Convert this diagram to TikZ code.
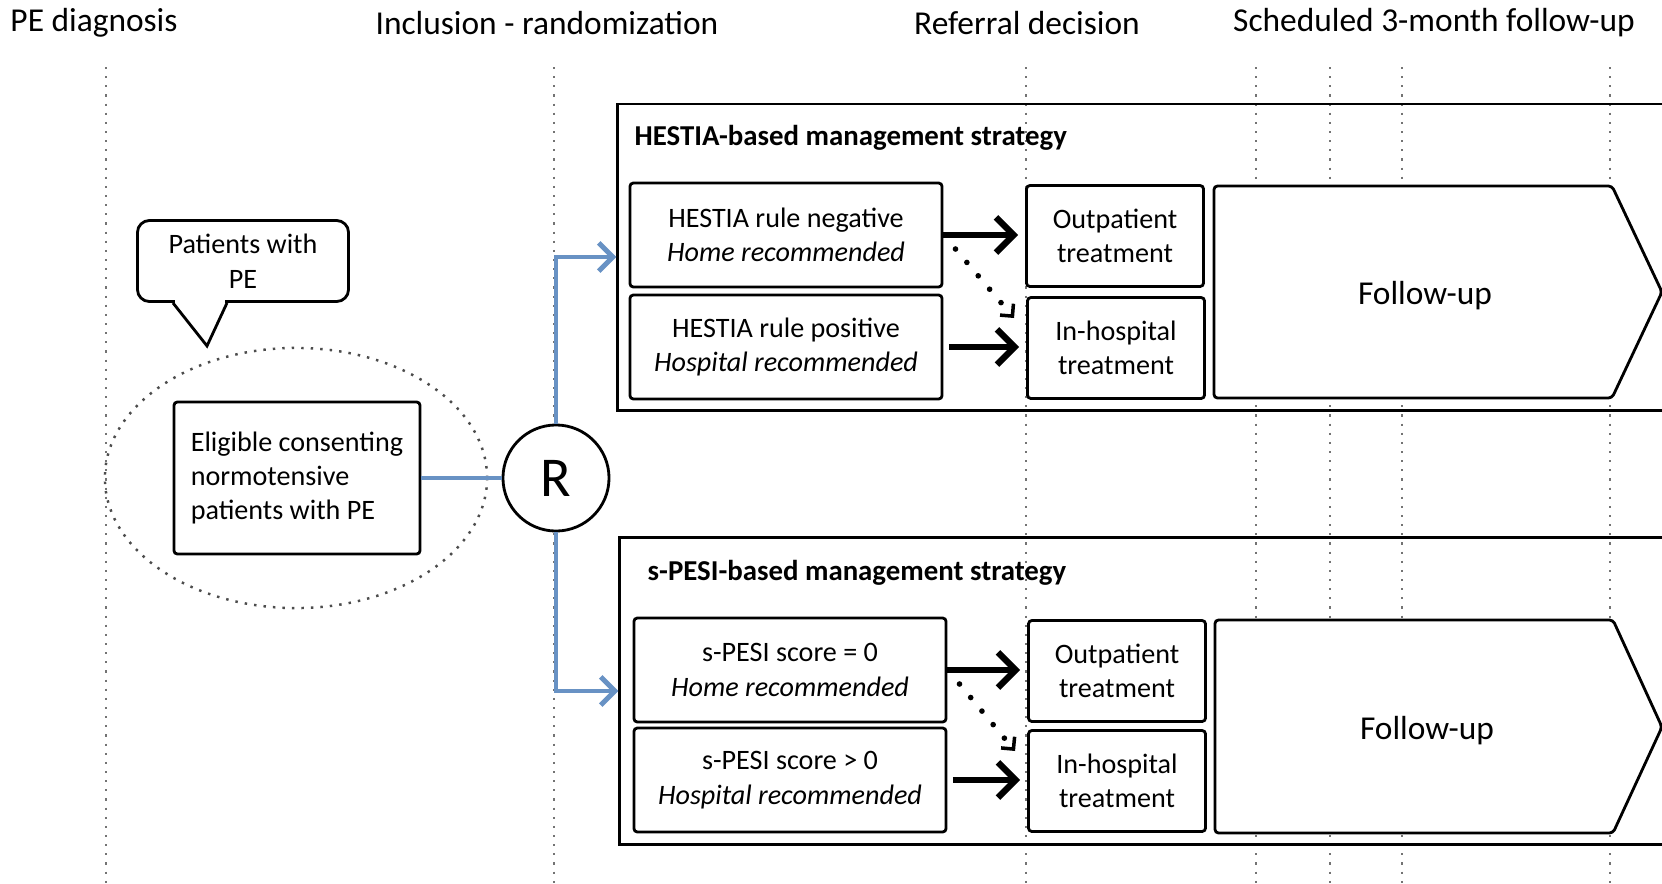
\documentclass[tikz,border=0pt]{standalone}
\usepackage{fontspec}
\setmainfont{Carlito}
\usetikzlibrary{arrows.meta}
\usetikzlibrary{shapes.geometric}
\usetikzlibrary{positioning}
\usetikzlibrary{calc}
\definecolor{linkblue}{RGB}{104,146,196}
\tikzstyle{phase} = [font=\fontsize{9.5}{11}\selectfont]
\tikzstyle{guide} = [draw=black!55, dotted, line width=0.6pt]
\tikzstyle{strategy} = [rectangle, draw, line width=0.8pt]
\tikzstyle{strattitle} = [anchor=west, inner sep=0pt, font=\bfseries\fontsize{8.2}{10}\selectfont]
\tikzstyle{rulebox} = [rectangle, draw, fill=white, line width=0.8pt, rounded corners=1pt, align=center, minimum width=3.12cm, minimum height=1.04cm, font=\fontsize{8}{9.8}\selectfont]
\tikzstyle{carebox} = [rulebox, minimum width=1.77cm, minimum height=1.01cm]
\tikzstyle{bubble} = [rectangle, draw, fill=white, line width=0.8pt, rounded corners=0.12cm, align=center, minimum width=2.11cm, minimum height=0.81cm, font=\fontsize{8}{9.8}\selectfont]
\tikzstyle{followup} = [draw, fill=white, line width=0.8pt, rounded corners=1pt]
\tikzstyle{flow} = [draw=linkblue, line width=1.4pt]
\tikzstyle{decide} = [-{Straight Barb[length=5pt,width=10pt]}, line width=1.8pt]
\tikzstyle{maybe} = [-{Straight Barb[length=2.5pt,width=5pt,line width=1pt]}, line width=1.6pt, dash pattern=on 0pt off 5pt, line cap=round]

\begin{document}
\begin{tikzpicture}[x=0.01cm, y=-0.01cm]
		\useasboundingbox (0,0) rectangle (1662,884);
		\clip (0,0) rectangle (1662,884);
		% time axis
		\node[phase] (tDiag) at (94,23) {PE diagnosis};
		\node[phase] (tIncl) at (547,23) {Inclusion - randomization};
		\node[phase] (tRef) at (1027,23) {Referral decision};
		\node[phase] (tFol) at (1434,23) {Scheduled 3-month follow-up};
		\foreach \gx in {106,554,1026,1256,1330,1402,1610}
			\draw[guide] (\gx,67) -- (\gx,884);
		% inclusion
		\node[bubble] (ptsPE) at (243,261) {Patients with\\PE};
		\draw[white, line width=1.6pt] ($(ptsPE.south)+(-68,0)$) -- ($(ptsPE.south)+(-18,0)$);
		\draw[line width=0.8pt] ($(ptsPE.south)+(-70,0)$) -- ($(ptsPE.south)+(-36,43)$) -- ($(ptsPE.south)+(-16,0)$);
		\node[ellipse, draw=black!70, dotted, line width=0.7pt, minimum width=3.82cm, minimum height=2.6cm] (pool) at (296,478) {};
		\node[rulebox, align=left, minimum width=2.46cm, minimum height=1.52cm] (elig) at (297,478) {Eligible consenting\\normotensive\\patients with PE};
		\node[circle, draw, fill=white, line width=0.8pt, minimum size=1.06cm, font=\fontsize{16}{16}\selectfont] (R) at (556,478) {R};
		% strategy frames
		\node[strategy, minimum width=10.82cm, minimum height=3.06cm] (hestia) at (1159,257) {};
		\node[strategy, minimum width=10.80cm, minimum height=3.07cm] (spesi) at (1160,691) {};
		\node[strattitle] (hestiaT) at (634,138) {HESTIA-based management strategy};
		\node[strattitle] (spesiT) at (647,573) {s-PESI-based management strategy};
		% randomization arms
		\draw[flow] (elig) -- (R);
		\draw[flow, -{Straight Barb[length=4pt,width=8pt]}] (R) |- (hestia.west);
		\draw[flow, -{Straight Barb[length=4pt,width=8pt]}] (R) |- (spesi.west);
		% HESTIA arm
		\node[rulebox] (hNeg) at (786,235) {HESTIA rule negative\\\textit{Home recommended}};
		\node[rulebox] (hPos) at (786,347) {HESTIA rule positive\\\textit{Hospital recommended}};
		\node[carebox] (hOut) at (1115,236) {Outpatient\\treatment};
		\node[carebox] (hHosp) at (1116,348) {In-hospital\\treatment};
		\draw[followup] (1214,186) -- (1612,186) -- (1662,292) -- (1612,398) -- (1214,398) -- cycle;
		\node[phase] (hFol) at (1425,296) {Follow-up};
		\draw[decide, shorten >=2pt] (hNeg.east) -- (hNeg.east -| hOut.west);
		\draw[decide, shorten >=2pt, shorten <=1.5pt] (hPos.east) -- (hPos.east -| hHosp.west);
		\draw[maybe] ($(hNeg.east)+(12,14)$) -- ($(hHosp.west)+(-12,-30)$);
		% s-PESI arm
		\node[rulebox] (sNeg) at (790,670) {s-PESI score = 0\\\textit{Home recommended}};
		\node[rulebox] (sPos) at (790,780) {s-PESI score > 0\\\textit{Hospital recommended}};
		\node[carebox] (sOut) at (1117,671) {Outpatient\\treatment};
		\node[carebox] (sHosp) at (1117,781) {In-hospital\\treatment};
		\draw[followup] (1215,620) -- (1613,620) -- (1662,727) -- (1613,833) -- (1215,833) -- cycle;
		\node[phase] (sFol) at (1427,731) {Follow-up};
		\draw[decide, shorten >=2pt] (sNeg.east) -- (sNeg.east -| sOut.west);
		\draw[decide, shorten >=2pt, shorten <=1.5pt] (sPos.east) -- (sPos.east -| sHosp.west);
		\draw[maybe] ($(sNeg.east)+(12,14)$) -- ($(sHosp.west)+(-12,-30)$);
	\end{tikzpicture}
\end{document}
